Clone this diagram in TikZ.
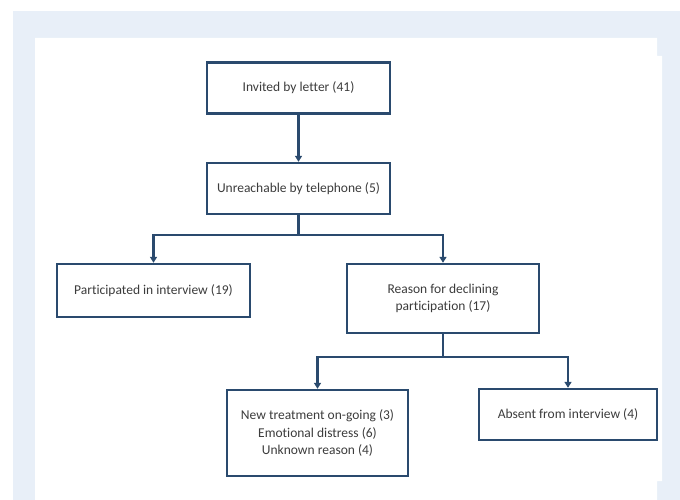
\documentclass[tikz,border=0pt]{standalone}
\usepackage{fontspec}
\setmainfont{Carlito}[Ligatures={NoCommon}]
\usetikzlibrary{arrows.meta}
\definecolor{bgblue}{HTML}{E8EFF8}
\definecolor{boxblue}{HTML}{2A4A6E}
\definecolor{txt}{HTML}{3C3C3C}
\tikzset{
  fbox/.style={draw=boxblue, line width=2.4pt, fill=white, text=txt, align=center,
    font=\fontsize{13.5}{17.5}\selectfont, inner sep=0pt},
  conn/.style={draw=boxblue, line width=2.4pt},
  arr/.style={conn, -{Triangle[width=7pt,length=6pt]}},
}
\begin{document}
\begin{tikzpicture}[x=1pt,y=-1pt]
\useasboundingbox (0,0) rectangle (680,500);
\fill[white] (0,0) rectangle (680,500);
\fill[bgblue] (13,11) rectangle (680,500);
\fill[white] (35,38) -- (657,38) -- (657,56) -- (662,56) -- (662,481) -- (657,481) -- (657,500) -- (35,500) -- cycle;

\node[fbox, minimum width=183pt, minimum height=51pt] (b1) at (298.5,88) {Invited by letter (41)};
\node[fbox, minimum width=183pt, minimum height=51pt] (b2) at (298.5,188.5) {Unreachable by telephone (5)};
\node[fbox, minimum width=193pt, minimum height=53pt] (b3) at (153.5,290.5) {Participated in interview (19)};
\node[fbox, minimum width=192pt, minimum height=69pt] (b4) at (443,298.5) {Reason for declining\\participation (17)};
\node[fbox, minimum width=181pt, minimum height=86pt] (b5) at (317.5,433) {New treatment on-going (3)\\Emotional distress (6)\\Unknown reason (4)};
\node[fbox, minimum width=178pt, minimum height=51pt] (b6) at (568,414.5) {Absent from interview (4)};

\coordinate (j1) at (298.5,235);
\coordinate (j2) at (443,357);

\draw[arr] (b1) -- (b2);
\draw[conn] (b2.south) -- (j1);
\draw[arr] (j1) -| (b3.north);
\draw[arr] (j1) -| (b4.north);
\draw[conn] (b4.south) -- (j2);
\draw[arr] (j2) -| (b5.north);
\draw[arr] (j2) -| (b6.north);
\end{tikzpicture}
\end{document}
